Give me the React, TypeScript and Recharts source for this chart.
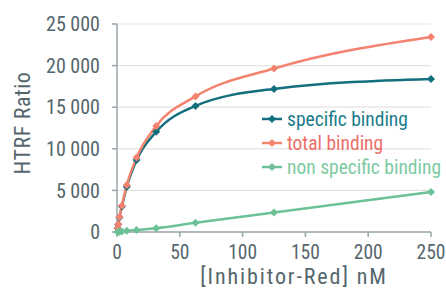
import { LineChart, Line, XAxis, YAxis, CartesianGrid, Legend } from 'recharts'

// inhibitor concentration, nM (2-fold dilution series)
const concentrations = [0.49, 0.98, 1.95, 3.9, 7.8, 15.6, 31.25, 62.5, 125, 250]
const specificBinding = [450, 900, 1750, 3050, 5450, 8650, 12050, 15150, 17200, 18400]
const totalBinding = [460, 920, 1800, 3150, 5650, 8950, 12750, 16300, 19650, 23450]
const nonSpecificBinding = [10, 20, 40, 75, 150, 250, 450, 1100, 2350, 4800]

const xTicks = [0, 50, 100, 150, 200, 250]
const yTicks = [0, 5000, 10000, 15000, 20000, 25000]

const series = [
  { key: 'specific', name: 'specific binding', color: '#136f7e', text: '#1b7c8c' },
  { key: 'total', name: 'total binding', color: '#f3826f', text: '#ec6f68' },
  { key: 'nonSpecific', name: 'non specific binding', color: '#6cc196', text: '#7ccaa1' }
]

const data = concentrations.map((c, i) => ({
  conc: c,
  specific: specificBinding[i],
  total: totalBinding[i],
  nonSpecific: nonSpecificBinding[i]
}))

const FONT = '"Roboto Condensed", "Liberation Sans Narrow", Roboto, sans-serif'
const TEXT = '#55666c'
const AXIS = '#98a6ab'

const fmt = (v: number) => String(v).replace(/\B(?=(\d{3})+(?!\d))/g, ' ')

const diamond = (color: string, r = 4) => (props: any) => {
  const { cx, cy, index } = props
  if (cx == null || cy == null) return <g key={index} />
  return (
    <polygon
      key={index}
      points={`${cx},${cy - r} ${cx + r},${cy} ${cx},${cy + r} ${cx - r},${cy}`}
      fill={color}
    />
  )
}

// axis titles placed relative to the axis viewBox
const YTitle = ({ viewBox }: any) => {
  const x = viewBox.x + 22
  const y = viewBox.y + viewBox.height / 2 - 5
  return (
    <text
      x={x}
      y={y}
      transform={`rotate(-90 ${x} ${y})`}
      textAnchor="middle"
      dominantBaseline="central"
      fill={TEXT}
      fontSize={22}
      fontFamily={FONT}
      letterSpacing={0.6}
    >
      HTRF Ratio
    </text>
  )
}

const XTitle = ({ viewBox }: any) => (
  <text
    x={viewBox.x + viewBox.width / 2 + 20}
    y={viewBox.y + 52}
    textAnchor="middle"
    fill={TEXT}
    fontSize={22}
    fontFamily={FONT}
    letterSpacing={1.9}
  >
    [Inhibitor-Red] nM
  </text>
)

const LegendContent = () => (
  <div style={{ fontFamily: FONT, fontSize: 19.5 }}>
    {series.map(s => (
      <div key={s.key} style={{ display: 'flex', alignItems: 'center', height: 24 }}>
        <svg width={22} height={10} style={{ marginRight: 3 }}>
          <line x1={0} y1={5} x2={20} y2={5} stroke={s.color} strokeWidth={2.5} />
          <polygon points="10,1 14,5 10,9 6,5" fill={s.color} />
        </svg>
        <span style={{ color: s.text }}>{s.name}</span>
      </div>
    ))}
  </div>
)

export default function App() {
  return (
    <div style={{ position: 'absolute', left: 0, top: 0, width: 446, height: 288, background: '#fff' }}>
      <LineChart
        width={446}
        height={288}
        data={data}
        margin={{ top: 24, right: 15, left: 0, bottom: 0 }}
      >
        <CartesianGrid vertical={false} stroke="#e3e3e3" strokeWidth={1.2} />
        <XAxis
          dataKey="conc"
          type="number"
          domain={[0, 250]}
          ticks={xTicks}
          height={56}
          stroke={AXIS}
          strokeWidth={1.5}
          tickSize={5}
          tickMargin={8}
          tick={{ fill: TEXT, fontSize: 19.5, fontFamily: FONT }}
          label={{ content: XTitle }}
        />
        <YAxis
          domain={[0, 25000]}
          ticks={yTicks}
          width={117}
          stroke={AXIS}
          strokeWidth={1.5}
          tickSize={5}
          tickMargin={12}
          tickFormatter={fmt}
          tick={{ fill: TEXT, fontSize: 20, fontFamily: FONT }}
          label={{ content: YTitle }}
        />
        <Legend
          content={<LegendContent />}
          layout="vertical"
          align="center"
          verticalAlign="middle"
          wrapperStyle={{ position: 'absolute', left: 262, top: 107, width: 190 }}
        />
        {series.map(s => (
          <Line
            key={s.key}
            type="monotone"
            dataKey={s.key}
            name={s.name}
            stroke={s.color}
            strokeWidth={2.5}
            dot={diamond(s.color)}
            activeDot={false}
            isAnimationActive={false}
          />
        ))}
      </LineChart>
    </div>
  )
}
